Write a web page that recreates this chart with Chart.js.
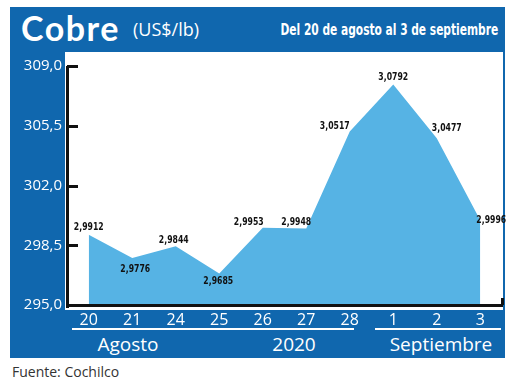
<!DOCTYPE html>
<html>
<head>
<meta charset="utf-8">
<script src="https://cdn.jsdelivr.net/npm/chart.js@4.4.0/dist/chart.umd.min.js"></script>
<style>
  html, body { margin:0; padding:0; background:#fff; }
  #wrap { position:relative; width:520px; height:384px; overflow:hidden; font-family:"Open Sans", sans-serif; }
  .abs { position:absolute; }
  #frame { left:10px; top:7px; width:495px; height:351px; background:#1067ae; }
  #plotbg { left:65px; top:52px; width:438px; height:258px; background:#fff; }
  #title { left:21px; top:6px; color:#fff; font-family:"Lato", sans-serif; font-weight:700; font-size:34px; letter-spacing:1.5px; line-height:44px; }
  #unit { left:133px; top:17px; color:#fff; font-family:"Open Sans", sans-serif; font-size:18px; line-height:24px; }
  #range { right:22px; top:19px; color:#fff; font-family:"DejaVu Sans Condensed", sans-serif; font-weight:700; font-size:16px; line-height:22px; transform:scaleX(0.74); transform-origin:right center; white-space:nowrap; }
  .uline { height:2px; background:#fff; top:328px; }
  .grp { color:#fff; font-family:"Open Sans", sans-serif; font-size:19px; line-height:24px; top:332px; transform:translateX(-50%); white-space:nowrap; }
  #src { left:12px; top:362px; color:#333; font-family:"Open Sans", sans-serif; font-size:14px; line-height:20px; }
  canvas { position:absolute; left:0; top:0; }
</style>
</head>
<body>
<div id="wrap">
  <div id="frame" class="abs"></div>
  <div id="plotbg" class="abs"></div>
  <div id="title" class="abs">Cobre</div>
  <div id="unit" class="abs">(US$/lb)</div>
  <div id="range" class="abs">Del 20 de agosto al 3 de septiembre</div>
  <div class="abs uline" style="left:72px;width:282px;"></div>
  <div class="abs uline" style="left:375px;width:126px;"></div>
  <div class="abs grp" style="left:128px;">Agosto</div>
  <div class="abs grp" style="left:294px;">2020</div>
  <div class="abs grp" style="left:441px;">Septiembre</div>
  <div id="src" class="abs">Fuente: Cochilco</div>
  <canvas id="c" width="520" height="384"></canvas>
</div>
<script>
// ---- data ----
const categories = ["20","21","24","25","26","27","28","1","2","3"];
const pricesUSDlb = [2.9912, 2.9776, 2.9844, 2.9685, 2.9953, 2.9948, 3.0517, 3.0792, 3.0477, 2.9996];
const yTicks = [295.0, 298.5, 302.0, 305.5, 309.0];

// plotted in US cents per lb (axis scale)
const plotted = pricesUSDlb.map(v => Math.round(v * 10000) / 100);

// label offsets (style only)
const labelOffsets = [[0,-8],[3,11],[-2,-6],[-1,8],[-14,-6],[-10,-6],[-15,-5],[0,-7],[10,-10],[11,0]];

const fmtComma = (v, d) => v.toFixed(d).replace('.', ',');

const decor = {
  id: 'decor',
  afterDraw(chart) {
    const ctx = chart.ctx;
    const ys = chart.scales.y;
    const area = chart.chartArea;
    ctx.save();
    ctx.fillStyle = '#111';
    // axis lines
    ctx.fillRect(area.left - 1, area.top, 3, area.bottom - area.top + 3);
    ctx.fillRect(area.left - 1, area.bottom - 1, area.right - area.left + 2, 3);
    // inner ticks
    yTicks.forEach(t => {
      const py = Math.round(ys.getPixelForValue(t));
      ctx.fillRect(area.left, py - 1, 11, 3);
    });
    // right end tick
    ctx.fillRect(area.right - 1, area.bottom - 7, 3, 7);
    // labels
    const meta = chart.getDatasetMeta(0);
    ctx.font = 'bold 11px "DejaVu Sans Condensed", sans-serif';
    ctx.textAlign = 'center';
    ctx.textBaseline = 'middle';
    meta.data.forEach((pt, i) => {
      const o = labelOffsets[i];
      ctx.save();
      ctx.translate(pt.x + o[0], pt.y + o[1]);
      ctx.scale(0.78, 1);
      ctx.fillText(fmtComma(pricesUSDlb[i], 4), 0, 0);
      ctx.restore();
    });
    ctx.restore();
  }
};

new Chart(document.getElementById('c'), {
  type: 'line',
  data: {
    labels: categories,
    datasets: [{
      data: plotted,
      fill: 'start',
      backgroundColor: '#56b3e4',
      borderColor: '#56b3e4',
      borderWidth: 0,
      pointRadius: 0,
      tension: 0
    }]
  },
  options: {
    responsive: false,
    devicePixelRatio: 1,
    animation: false,
    layout: { padding: { left: 10, right: 18, top: 66, bottom: 0 } },
    plugins: { legend: { display: false }, tooltip: { enabled: false } },
    scales: {
      x: {
        type: 'category',
        offset: true,
        grid: { display: false, drawTicks: false },
        border: { display: false },
        ticks: { color: '#fff', font: { family: '"Open Sans", sans-serif', size: 16 }, padding: 6, maxRotation: 0, autoSkip: false },
        afterFit(s) { s.height = 79; }
      },
      y: {
        min: 295, max: 309,
        afterBuildTicks(s) { s.ticks = yTicks.map(v => ({ value: v })); },
        grid: { display: false, drawTicks: false },
        border: { display: false },
        ticks: { color: '#fff', font: { family: '"Open Sans", sans-serif', size: 15 }, padding: 5, callback: v => fmtComma(v, 1) },
        afterFit(s) { s.width = 57; }
      }
    }
  },
  plugins: [decor]
});
</script>
</body>
</html>
